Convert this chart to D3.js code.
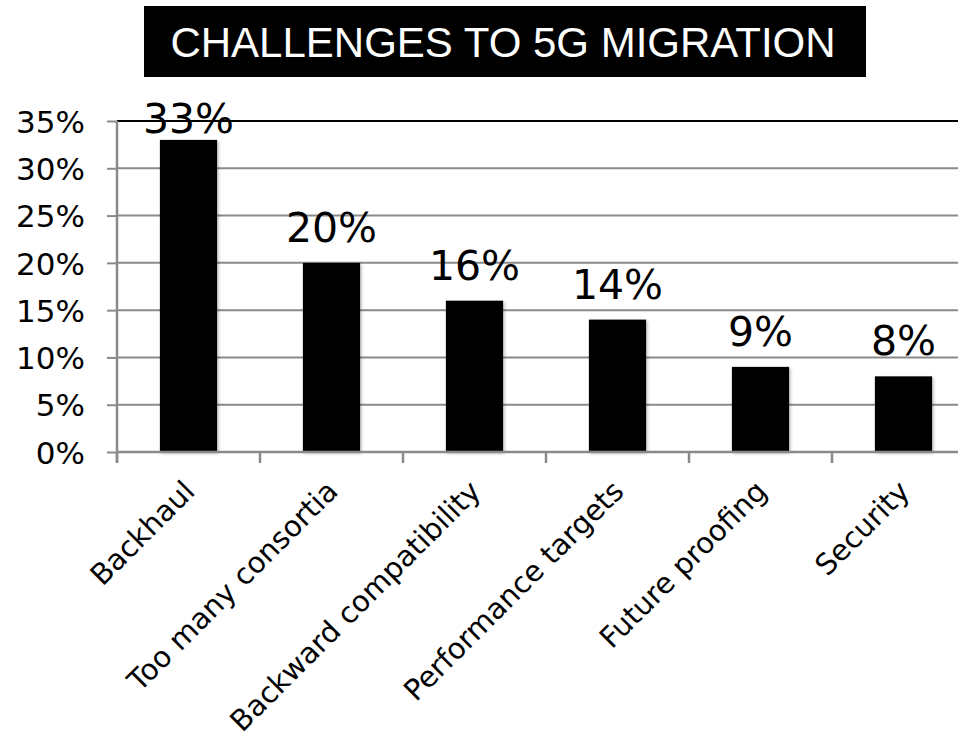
<!DOCTYPE html>
<html>
<head>
<meta charset="utf-8">
<script src="https://cdn.jsdelivr.net/npm/d3@7/dist/d3.min.js"></script>
<style>
  html, body { margin: 0; padding: 0; background: #fff; }
  svg { display: block; }
</style>
</head>
<body>
<svg id="chart" width="958" height="742"></svg>
<script>
const titleText = "CHALLENGES TO 5G MIGRATION";
const categories = ["Backhaul", "Too many consortia", "Backward compatibility", "Performance targets", "Future proofing", "Security"];
const values = [0.33, 0.20, 0.16, 0.14, 0.09, 0.08];
const valueLabels = ["33%", "20%", "16%", "14%", "9%", "8%"];
const yTicks = [0, 0.05, 0.10, 0.15, 0.20, 0.25, 0.30, 0.35];

const W = 958, H = 742;
const svg = d3.select("#chart");

const defs = svg.append("defs");
const f = defs.append("filter").attr("id", "shadow").attr("x", "-20%").attr("y", "-20%").attr("width", "140%").attr("height", "140%");
f.append("feDropShadow").attr("dx", 1.5).attr("dy", 1.5).attr("stdDeviation", 1.5)
  .attr("flood-color", "#000").attr("flood-opacity", 0.25);

// Title
svg.append("rect").attr("x", 144).attr("y", 6).attr("width", 722).attr("height", 71).attr("fill", "#000");
svg.append("text").attr("x", 503).attr("y", 57).attr("text-anchor", "middle")
  .attr("font-family", "'Liberation Sans', Arial, sans-serif").attr("font-size", 42)
  .attr("fill", "#fff").text(titleText);

const plotLeft = 117, plotRight = 975, plotTop = 121, plotBottom = 452;

const x = d3.scaleBand().domain(categories).range([plotLeft, plotRight])
  .paddingInner(0.6).paddingOuter(0.3);
const y = d3.scaleLinear().domain([0, 0.35]).range([plotBottom, plotTop]);

const gray = "#8a8a8a";

// gridlines
svg.append("g").selectAll("line").data(yTicks.filter(d => d > 0 && d < 0.35)).join("line")
  .attr("x1", plotLeft).attr("x2", W)
  .attr("y1", d => y(d)).attr("y2", d => y(d))
  .attr("stroke", gray).attr("stroke-width", 2);

// top border
svg.append("line").attr("x1", plotLeft).attr("x2", W).attr("y1", y(0.35)).attr("y2", y(0.35))
  .attr("stroke", "#000").attr("stroke-width", 2);

// y axis
const yAxis = svg.append("g").attr("transform", `translate(${plotLeft},0)`)
  .call(d3.axisLeft(y).tickValues(yTicks).tickSize(10).tickPadding(22).tickFormat(d3.format(".0%")));
yAxis.select(".domain").remove();
yAxis.selectAll(".tick line").attr("stroke", gray).attr("stroke-width", 2);
yAxis.selectAll(".tick text").attr("font-family", "'DejaVu Sans', sans-serif").attr("font-size", 31)
  .attr("fill", "#000").attr("dy", "0.36em");
svg.append("line").attr("x1", plotLeft).attr("x2", plotLeft).attr("y1", plotTop).attr("y2", plotBottom + 11)
  .attr("stroke", gray).attr("stroke-width", 2.5);

// bars
svg.append("g").selectAll("rect").data(categories).join("rect")
  .attr("x", d => x(d)).attr("width", x.bandwidth())
  .attr("y", (d, i) => y(values[i])).attr("height", (d, i) => y(0) - y(values[i]))
  .attr("fill", "#000").attr("filter", "url(#shadow)");

// x axis line
svg.append("line").attr("x1", plotLeft).attr("x2", W).attr("y1", plotBottom).attr("y2", plotBottom)
  .attr("stroke", gray).attr("stroke-width", 2.5);

// x category boundary ticks
const boundaries = categories.map(c => x(c) - x.step() * x.paddingInner() / 2);
svg.append("g").selectAll("line").data(boundaries).join("line")
  .attr("x1", d => d).attr("x2", d => d).attr("y1", plotBottom).attr("y2", plotBottom + 11)
  .attr("stroke", gray).attr("stroke-width", 2.5);

// value labels
svg.append("g").selectAll("text").data(categories).join("text")
  .attr("x", d => x(d) + x.bandwidth() / 2)
  .attr("y", (d, i) => Math.max(y(values[i]) - 21, y(0.35) + 12))
  .attr("text-anchor", "middle")
  .attr("font-family", "'DejaVu Sans', sans-serif").attr("font-size", 41).attr("fill", "#000")
  .text((d, i) => valueLabels[i]);

// x labels
svg.append("g").selectAll("text").data(categories).join("text")
  .attr("transform", d => `translate(${x(d) + x.bandwidth() / 2 + 8},${plotBottom + 41}) rotate(-45)`)
  .attr("text-anchor", "end")
  .attr("font-family", "'DejaVu Sans', sans-serif").attr("font-size", 29).attr("fill", "#000")
  .text(d => d);
</script>
</body>
</html>
